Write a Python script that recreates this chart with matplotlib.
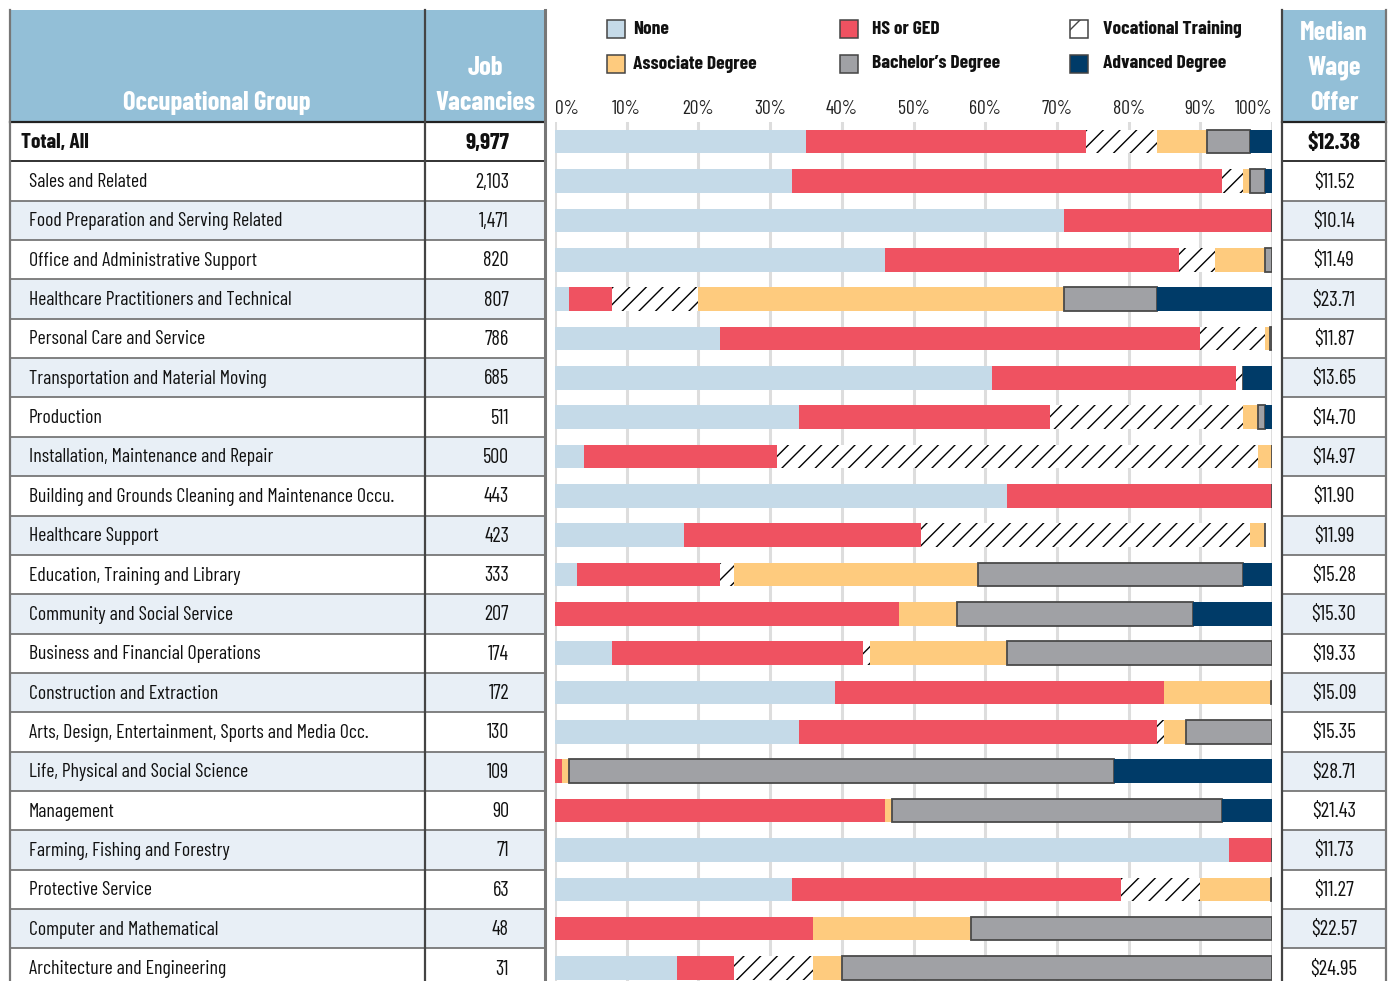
import numpy as np
import matplotlib
matplotlib.use("Agg")
import matplotlib.pyplot as plt
from matplotlib.patches import Rectangle

plt.rcParams['font.family'] = ['Barlow Condensed', 'PT Sans Narrow', 'DejaVu Sans']
plt.rcParams['hatch.linewidth'] = 1.0

## DATA
groups = ["Total, All", "Sales and Related", "Food Preparation and Serving Related",
          "Office and Administrative Support", "Healthcare Practitioners and Technical",
          "Personal Care and Service", "Transportation and Material Moving", "Production",
          "Installation, Maintenance and Repair",
          "Building and Grounds Cleaning and Maintenance Occu.", "Healthcare Support",
          "Education, Training and Library", "Community and Social Service",
          "Business and Financial Operations", "Construction and Extraction",
          "Arts, Design, Entertainment, Sports and Media Occ.",
          "Life, Physical and Social Science", "Management", "Farming, Fishing and Forestry",
          "Protective Service", "Computer and Mathematical", "Architecture and Engineering"]
vacancies = [9977, 2103, 1471, 820, 807, 786, 685, 511, 500, 443, 423, 333, 207, 174,
             172, 130, 109, 90, 71, 63, 48, 31]
wages = [12.38, 11.52, 10.14, 11.49, 23.71, 11.87, 13.65, 14.70, 14.97, 11.90, 11.99,
         15.28, 15.30, 19.33, 15.09, 15.35, 28.71, 21.43, 11.73, 11.27, 22.57, 24.95]

# share of vacancies by education level (%)
none_ = [35, 33, 71, 46, 2, 23, 61, 34, 4, 63, 18, 3, 0, 8, 39, 34, 0, 0, 94, 33, 0, 17]
hs_ged = [39, 60, 29, 41, 6, 67, 34, 35, 27, 37, 33, 20, 48, 35, 46, 50, 1, 46, 6, 46, 36, 8]
vocational = [10, 3, 0, 5, 12, 9, 1, 27, 67, 0, 46, 2, 0, 1, 0, 1, 0, 0, 0, 11, 0, 11]
associate = [7, 1, 0, 7, 51, 0.7, 0, 2, 2, 0, 2, 34, 8, 19, 14.8, 3, 1, 1, 0, 9.8, 22, 4]
bachelor = [6, 2, 0, 1, 13, 0.3, 0, 1, 0, 0, 0, 37, 33, 37, 0.2, 12, 76, 46, 0, 0.2, 42, 60]
advanced = [3, 1, 0, 0, 16, 0, 4, 1, 0, 0, 0, 4, 11, 0, 0, 0, 22, 7, 0, 0, 0, 0]

levels = ["None", "HS or GED", "Vocational Training",
          "Associate Degree", "Bachelor\u2019s Degree", "Advanced Degree"]
ticks = [0, 10, 20, 30, 40, 50, 60, 70, 80, 90, 100]

## STYLE
W, H = 1393, 981
HEAD = "#93BFD7"
SHADE = "#E8EFF6"
LINE = "#777777"
DARK = "#222222"
colors = ["#C5DAE8", "#EF5261", "white", "#FECB7E", "#A0A1A5", "#003B68"]
row_top, row_h = 122, 39.35
n = len(groups)

fig = plt.figure(figsize=(W / 100, H / 100), dpi=100)
renderer = fig.canvas.get_renderer()


def fit_size(s, target_px, weight="normal", base=15):
    # font size whose rendered width matches the width measured on the reference
    t = fig.text(0, 0, s, fontsize=base, fontweight=weight)
    w = t.get_window_extent(renderer).width
    t.remove()
    return base * target_px / w


fs_row = fit_size("Food Preparation and Serving Related", 253)
fs_total = fit_size("Total, All", 68, "bold")
fs_num = fit_size("820", 26)
fs_num_b = fit_size("9,977", 44, "bold")
fs_wage = fit_size("$22.57", 46)
fs_wage_b = fit_size("$12.38", 53, "bold")
fs_head = fit_size("Occupational Group", 188, "bold")
fs_leg = fit_size("Vocational Training", 138, "bold")
fs_tick = fit_size("100%", 38)

# table layer in pixel coordinates
tab = fig.add_axes([0, 0, 1, 1])
tab.set_xlim(0, W)
tab.set_ylim(H, 0)
tab.axis("off")

for x0, x1 in [(10, 545), (1282, 1386)]:
    tab.add_patch(Rectangle((x0, 10), x1 - x0, row_top - 10, color=HEAD, lw=0))
    for i in range(n):
        if i >= 2 and i % 2 == 0:
            tab.add_patch(Rectangle((x0, row_top + i * row_h), x1 - x0, row_h,
                                    color=SHADE, lw=0))
    for i in range(1, n):
        y = row_top + i * row_h
        tab.plot([x0, x1], [y, y], color=DARK if i == 1 else LINE, lw=1.3)
    tab.plot([x0, x1], [row_top, row_top], color=DARK, lw=1.6)

for x, c, w in [(10, LINE, 1.6), (425, "#444444", 1.6), (545, LINE, 2.2),
                (1282, "#444444", 1.6), (1386, LINE, 1.6)]:
    tab.plot([x, x], [10, H], color=c, lw=w)

hfont = dict(color="white", fontweight="bold", fontsize=fs_head, va="center", ha="center")
tab.text(217, 103, "Occupational Group", **hfont)
tab.text(485, 68, "Job", **hfont)
tab.text(485, 103, "Vacancies", **hfont)
tab.text(1334, 33, "Median", **hfont)
tab.text(1334, 68, "Wage", **hfont)
tab.text(1334, 103, "Offer", **hfont)

for i, (g, v, w) in enumerate(zip(groups, vacancies, wages)):
    yc = row_top + (i + 0.5) * row_h + 1
    if i == 0:
        sizes, bold = (fs_total, fs_num_b, fs_wage_b), "bold"
    else:
        sizes, bold = (fs_row, fs_num, fs_wage), "normal"
    tab.text(21 if i == 0 else 29, yc, g, fontsize=sizes[0], fontweight=bold,
             va="center", ha="left", color="#111111")
    tab.text(509, yc, f"{v:,}", fontsize=sizes[1], fontweight=bold,
             va="center", ha="right", color="#111111")
    tab.text(1334, yc, f"${w:.2f}", fontsize=sizes[2], fontweight=bold,
             va="center", ha="center", color="#111111")

# legend: square x, text x, y centre
leg_pos = [(607, 633, 29), (840, 872, 29), (1070, 1103, 29),
           (607, 633, 64), (840, 872, 64), (1070, 1103, 64)]
for (sx, tx, ly), lab, col in zip(leg_pos, levels, colors):
    tab.add_patch(Rectangle((sx, ly - 9), 18, 18, facecolor=col, edgecolor="#444444",
                            lw=1.1, hatch="/" if lab.startswith("Voc") else None))
    tab.text(tx, ly, lab, fontsize=fs_leg, fontweight="bold", va="center",
             ha="left", color="#111111")

## CHART
bottom = H - (row_top + n * row_h)
ax = fig.add_axes([555 / W, bottom / H, 717 / W, n * row_h / H])
ax.set_xlim(0, 100)
ax.set_ylim(n - 0.5, -0.5)
ax.set_facecolor("none")
for s in ax.spines.values():
    s.set_visible(False)
ax.set_xticks(ticks)
ax.set_yticks([])
ax.tick_params(axis="x", length=0, labelbottom=False)
ax.grid(axis="x", color="#DDDDDD", lw=2.2)
ax.set_axisbelow(True)

y = np.arange(n)
left = np.zeros(n)
for lab, vals, col in zip(levels, [none_, hs_ged, vocational, associate, bachelor, advanced],
                          colors):
    vals = np.array(vals, dtype=float)
    if lab.startswith("Voc"):
        ax.barh(y, vals, left=left, height=0.6, facecolor="white", edgecolor="black",
                hatch="//", lw=0)
    elif lab.startswith("Bach"):
        ax.barh(y, vals, left=left, height=0.6, color=col, edgecolor="#4A4A4A", lw=1.3)
    else:
        ax.barh(y, vals, left=left, height=0.6, color=col, lw=0)
    left += vals

for t in ticks:
    ha = "left" if t == 0 else ("right" if t == 100 else "center")
    ax.text(t, -0.82, f"{t}%", ha=ha, va="center", fontsize=fs_tick, color="#222222",
            transform=ax.transData, clip_on=False)

fig.savefig("out.png", dpi=100)
